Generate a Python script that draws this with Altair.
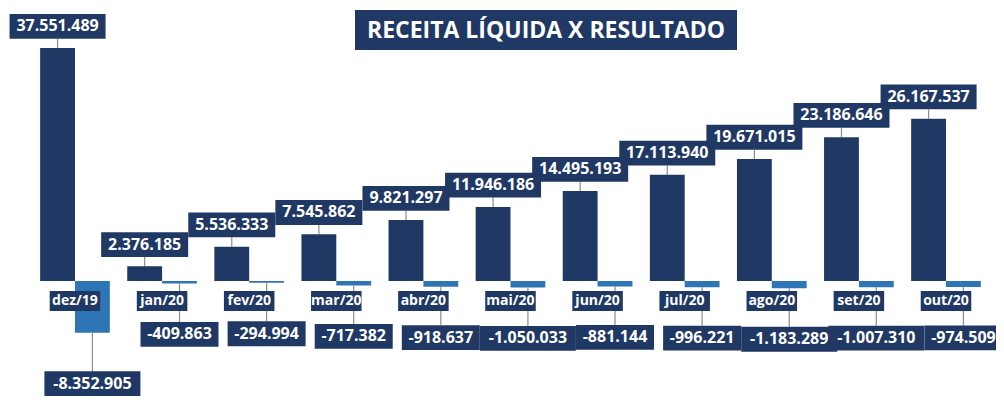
import altair as alt
import pandas as pd

meses = ["dez/19", "jan/20", "fev/20", "mar/20", "abr/20", "mai/20",
         "jun/20", "jul/20", "ago/20", "set/20", "out/20"]
receita = [37551489, 2376185, 5536333, 7545862, 9821297, 11946186,
           14495193, 17113940, 19671015, 23186646, 26167537]
resultado = [-8352905, -409863, -294994, -717382, -918637, -1050033,
             -881144, -996221, -1183289, -1007310, -974509]
series = ["Receita Líquida", "Resultado"]
titulo = "RECEITA LÍQUIDA X RESULTADO"

NAVY = "#1F3864"
BLUE = "#2E75B6"
FONT = "Open Sans"

rows = []
for i, m in enumerate(meses):
    for s, v in ((series[0], receita[i]), (series[1], resultado[i])):
        lab = f"{v:,}".replace(",", ".")
        rows.append(dict(i=i, mes=m, serie=s, valor=v, rotulo=lab, n=len(lab)))
df = pd.DataFrame(rows)
cats = pd.DataFrame({"i": list(range(len(meses))), "mes": meses})

xs = alt.Scale(domain=[-0.769, 10.574], nice=False, zero=False)
ys = alt.Scale(domain=[-18530000, 44000000], nice=False, zero=False)
PXU = 87.1  # pixels per category unit

base = alt.Chart(df).transform_calculate(
    x0=f"datum.serie == '{series[0]}' ? datum.i - 0.4 : datum.i",
).transform_calculate(
    x1="datum.x0 + 0.4",
    xc="datum.x0 + 0.2",
    ly=f"datum.serie == '{series[0]}' ? datum.valor + 3500000 : datum.valor - 8200000",
    hw=f"(9 * datum.n + 6) / 2 / {PXU}",
).transform_calculate(
    lx0="datum.xc - datum.hw",
    lx1="datum.xc + datum.hw",
    ly0="datum.ly - 2000000",
    ly1="datum.ly + 2000000",
    lend=f"datum.serie == '{series[0]}' ? datum.ly - 2000000 : datum.ly + 2000000",
)

leaders = base.mark_rule(color="#8c8c8c", strokeWidth=1.2).encode(
    x=alt.X("xc:Q", scale=xs, axis=None),
    y=alt.Y("valor:Q", scale=ys, axis=None),
    y2="lend:Q",
)

bars = base.mark_rect().encode(
    x=alt.X("x0:Q", scale=xs, axis=None),
    x2="x1:Q",
    y=alt.Y("valor:Q", scale=ys, axis=None),
    y2=alt.datum(0),
    color=alt.Color("serie:N", scale=alt.Scale(domain=series, range=[NAVY, BLUE]), legend=None),
)

cat_base = alt.Chart(cats).transform_calculate(
    cx0="datum.i - 0.29", cx1="datum.i + 0.29",
)
cat_box = cat_base.mark_rect(color=NAVY).encode(
    x=alt.X("cx0:Q", scale=xs, axis=None),
    x2="cx1:Q",
    y=alt.Y(datum=-1610000, scale=ys, axis=None),
    y2=alt.datum(-4830000),
)
cat_text = cat_base.mark_text(color="white", font=FONT, fontWeight="bold", fontSize=14,
                              baseline="middle", align="center").encode(
    x=alt.X("i:Q", scale=xs, axis=None),
    y=alt.Y(datum=-3220000, scale=ys, axis=None),
    text="mes:N",
)

lab_box = base.mark_rect(color=NAVY).encode(
    x=alt.X("lx0:Q", scale=xs, axis=None),
    x2="lx1:Q",
    y=alt.Y("ly0:Q", scale=ys, axis=None),
    y2="ly1:Q",
)
lab_text = base.mark_text(color="white", font=FONT, fontWeight="bold", fontSize=16,
                          baseline="middle", align="center").encode(
    x=alt.X("xc:Q", scale=xs, axis=None),
    y=alt.Y("ly:Q", scale=ys, axis=None),
    text="rotulo:N",
)

tdf = pd.DataFrame({"t": [titulo]})
title_box = alt.Chart(tdf).mark_rect(color=NAVY).encode(
    x=alt.value(347), x2=alt.value(729), y=alt.value(2), y2=alt.value(42),
)
title_text = alt.Chart(tdf).mark_text(color="white", font=FONT, fontWeight="bold", fontSize=23,
                                      baseline="middle", align="center").encode(
    x=alt.value(538), y=alt.value(23), text="t:N",
)

chart = alt.layer(
    leaders, bars, cat_box, cat_text, lab_box, lab_text, title_box, title_text
).properties(
    width=988, height=388, padding=0,
    autosize=alt.AutoSizeParams(type="none"),
).configure_view(stroke=None)

chart.save("out.html", embed_options={"renderer": "svg", "actions": False})
